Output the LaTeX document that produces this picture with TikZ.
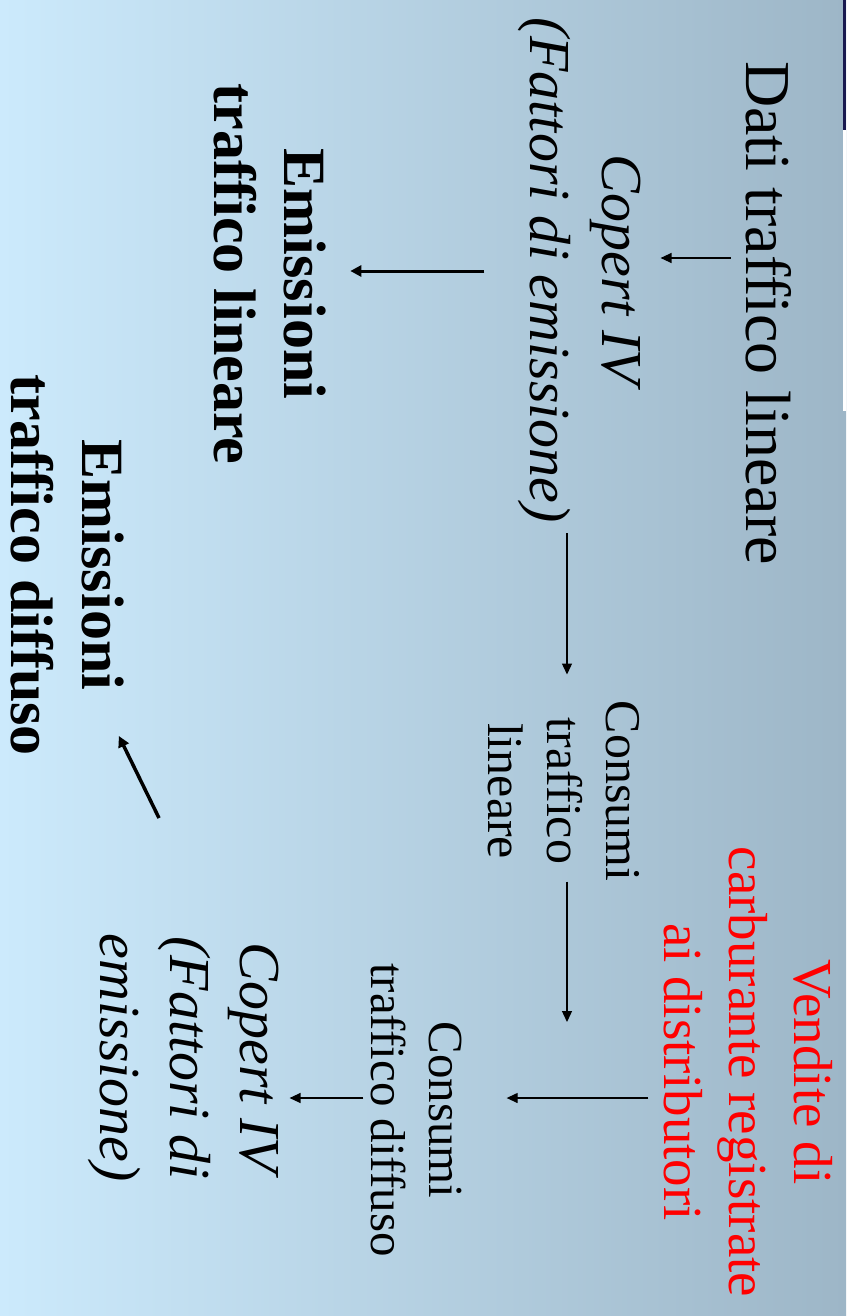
\documentclass[tikz,border=0pt]{standalone}
\usepackage{fontspec}
\setmainfont{Liberation Serif}
\usetikzlibrary{arrows.meta,calc}
\definecolor{bgleft}{RGB}{204,234,252}
\definecolor{bgright}{RGB}{157,182,199}
\definecolor{navybar}{RGB}{25,25,80}
\definecolor{vendred}{RGB}{255,0,0}
\tikzset{
  txt/.style={rotate=-90, align=center, inner sep=0pt, text=black},
  thinarr/.style={line width=1.3pt, -{Triangle[length=11pt,width=10pt]}},
  thickarr/.style={line width=3pt, -{Triangle[length=11pt,width=11pt]}},
}
\begin{document}
\begin{tikzpicture}[x=1pt,y=-1pt]
\useasboundingbox (0,0) rectangle (846,1316);
\shade[left color=bgleft, right color=bgright] (0,0) rectangle (846,1316);
\fill[navybar] (843,0) rectangle (846,130);
\fill[white] (843,130) rectangle (846,411);

% text blocks
\node[txt, font=\fontsize{64}{72}\selectfont] (dati) at (769,313) {Dati traffico lineare};
\node[txt, font=\fontsize{58}{72}\selectfont\itshape] (copert1) at (580,270) {Copert IV\\(Fattori di emissione)};
\node[txt, font=\fontsize{60}{70}\selectfont\bfseries] (emis1) at (270,274) {Emissioni\\traffico lineare};
\node[txt, font=\fontsize{50}{59}\selectfont] (cons1) at (564,791) {Consumi\\traffico\\lineare};
\node[txt, font=\fontsize{55}{65}\selectfont, text=vendred] (vend) at (748,1072) {Vendite di\\carburante registrate\\ai distributori};
\node[txt, font=\fontsize{49}{58}\selectfont] (cons2) at (416,1110) {Consumi\\traffico diffuso};
\node[txt, font=\fontsize{58}{70}\selectfont\itshape] (copert2) at (184,1058) {Copert IV\\(Fattori di\\emissione)};
\node[txt, font=\fontsize{60}{71}\selectfont\bfseries] (emis2) at (67,565) {Emissioni\\traffico diffuso};

% free ends
\coordinate (c4) at (567,1022);
\coordinate (c7) at (159,818);

% connectors
\draw[thinarr, shorten <=15pt, shorten >=19pt] (dati.south |- 0,258) -- (copert1.north |- 0,258);
\draw[thickarr, shorten <=34pt, shorten >=24pt] (copert1.south |- 0,271) -- (emis1.north |- 0,271);
\draw[thinarr, shorten <=10pt, shorten >=26pt] (copert1.east -| 567,0) -- (cons1.west -| 567,0);
\draw[thinarr] (cons1.east -| 567,0) -- (c4);
\draw[thinarr, shorten <=15pt, shorten >=45pt] (vend.south |- 0,1098) -- (cons2.north |- 0,1098);
\draw[thinarr, shorten <=7pt, shorten >=10pt] (cons2.south |- 0,1098) -- (copert2.north |- 0,1098);
\draw[thickarr, line width=3.5pt] (c7) -- ($(emis2.north east)+(-5,-20)$);
\end{tikzpicture}
\end{document}
